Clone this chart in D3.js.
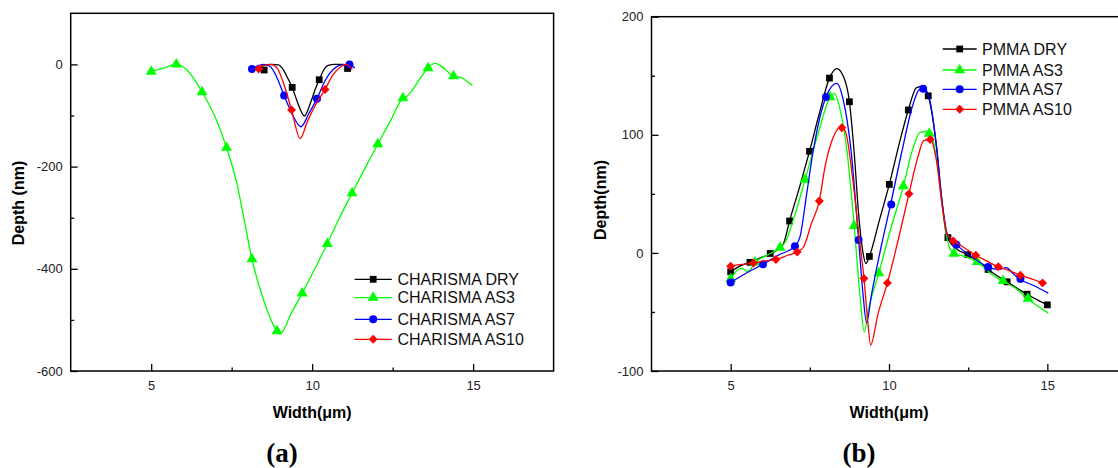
<!DOCTYPE html>
<html>
<head>
<meta charset="utf-8">
<script src="https://cdn.jsdelivr.net/npm/d3@7"></script>
<style>
    body { margin: 0; background: #fff; }
    text { font-family: Arial, 'Liberation Sans', sans-serif; }
    text.tag { font-family: 'Liberation Serif', 'Times New Roman', serif; }
</style>
</head>
<body>
<svg id="chart"></svg>
<script>
// ---- data: [width (um), depth (nm)] ----
const xTicks = [5, 10, 15];
const xMinorTicks = [7.5, 12.5];
const leftYTicks = [-600, -400, -200, 0];
const leftYMinor = [-500, -300, -100];
const rightYTicks = [-100, 0, 100, 200];
const rightYMinor = [-50, 50, 150];

const charismaLabels = ['CHARISMA DRY', 'CHARISMA AS3', 'CHARISMA AS7', 'CHARISMA AS10'];
const pmmaLabels = ['PMMA DRY', 'PMMA AS3', 'PMMA AS7', 'PMMA AS10'];

// (a) CHARISMA
const charismaDryLine = [[8.35, -5], [8.55, -1], [8.75, 0], [8.95, -1], [9.1, -10], [9.25, -28], [9.38, -45], [9.55, -75], [9.76, -101], [9.95, -75], [10.1, -48], [10.22, -30], [10.35, -12], [10.5, -2], [10.7, 0], [10.95, 0], [11.1, -4], [11.2, -7]];
const charismaDryMarks = [[8.51, -11], [9.38, -45], [10.22, -30], [11.1, -8]];

const charismaAS3Line = [[5, -14], [5.35, -8], [5.78, 0], [6.11, -11], [6.58, -54], [7.0, -105], [7.34, -163], [7.5, -195], [7.66, -233], [7.87, -298], [8.13, -381], [8.49, -461], [8.91, -522], [9.0, -528], [9.35, -487], [9.69, -448], [10.1, -398], [10.47, -351], [10.85, -300], [11.24, -252], [11.65, -202], [12.04, -156], [12.45, -108], [12.82, -66], [12.93, -63], [13.15, -47], [13.38, -25], [13.6, -7], [13.82, 2], [14.1, -8], [14.39, -23], [14.59, -25], [14.98, -42]];
const charismaAS3Marks = [[5, -14], [5.78, 0], [6.58, -54], [7.34, -163], [8.13, -381], [8.91, -522], [9.69, -448], [10.47, -351], [11.24, -252], [12.04, -156], [12.82, -66], [13.6, -7], [14.39, -23]];

const charismaAS7Line = [[8.13, -9], [8.3, -3], [8.5, 0], [8.7, -4], [8.9, -25], [9.13, -61], [9.4, -100], [9.65, -122], [9.9, -96], [10.15, -67], [10.4, -32], [10.65, -10], [10.9, -1], [11.1, 0], [11.33, -7]];
const charismaAS7Marks = [[8.13, -9], [9.13, -61], [10.15, -67], [11.16, 0]];

const charismaAS10Line = [[8.34, -9], [8.5, -2], [8.7, 0], [8.9, -6], [9.1, -35], [9.36, -89], [9.63, -145], [9.85, -112], [10.1, -80], [10.4, -49], [10.65, -20], [10.9, -4], [11.05, 0], [11.25, -10]];
const charismaAS10Marks = [[8.34, -9], [9.36, -89], [10.4, -49]];

// (b) PMMA
const pmmaDryLine = [[5, -16], [5.3, -11], [5.61, -8], [5.95, -4], [6.25, -1], [6.5, 3], [6.67, 8], [6.86, 27], [7.2, 58], [7.49, 86], [7.8, 118], [8.12, 148], [8.35, 156], [8.55, 150], [8.75, 128], [8.9, 85], [9.05, 30], [9.18, 0], [9.27, -9], [9.38, -3], [9.7, 28], [10.01, 58], [10.3, 90], [10.61, 121], [10.87, 140], [11.08, 141], [11.24, 133], [11.5, 90], [11.66, 47], [11.82, 15], [12.1, 4], [12.49, -1.5], [12.8, -7], [13.13, -14], [13.45, -20], [13.73, -24.5], [14.05, -30], [14.36, -35], [14.7, -40], [15, -44]];
const pmmaDryMarks = [[5, -16], [5.61, -8], [6.25, -0.5], [6.86, 27], [7.49, 86], [8.12, 148], [8.75, 128], [9.38, -3], [10.01, 58], [10.61, 121], [11.24, 133], [11.86, 13], [12.49, -1.5], [13.13, -14], [13.73, -24.5], [14.36, -35], [15, -44]];

const pmmaAS3Line = [[5, -22], [5.2, -15], [5.35, -13], [5.55, -16], [5.77, -8], [6.15, -2], [6.56, 4.5], [6.72, 9], [7.0, 30], [7.35, 62], [7.75, 100], [8.14, 132], [8.27, 135], [8.45, 122], [8.67, 87], [8.9, 23], [9.08, -35], [9.22, -67], [9.35, -48], [9.68, -17], [10.05, 20], [10.45, 56], [10.75, 88], [10.98, 102], [11.29, 103], [11.5, 80], [11.71, 33], [11.9, 5], [12.05, -0.5], [12.4, -3], [12.79, -8], [12.95, -11], [13.19, -17], [13.6, -24], [14.0, -30], [14.39, -39], [15.03, -51]];
const pmmaAS3Marks = [[5, -22], [5.77, -8], [6.56, 4.5], [7.35, 62], [8.14, 132], [8.9, 23], [9.68, -17], [10.45, 56.5], [11.27, 101], [12.05, -0.5], [12.79, -7.6], [13.6, -23.7], [14.39, -38.7]];

const pmmaAS7Line = [[5, -25], [5.5, -17], [6.02, -9.6], [6.5, -2], [7.03, 5.7], [7.19, 13.6], [7.4, 50], [7.61, 87], [8.01, 132], [8.35, 143.5], [8.55, 130], [8.8, 87], [9.04, 11], [9.18, -35], [9.29, -59], [9.45, -35], [9.75, 5], [10.05, 41], [10.4, 85], [10.75, 125], [10.95, 138], [11.08, 139], [11.28, 130], [11.5, 90], [11.66, 47], [11.85, 15], [12.13, 7], [12.6, -3], [13.13, -11.8], [13.45, -14], [13.71, -12.5], [13.9, -17], [14.15, -22.5], [14.6, -28], [15.03, -34]];
const pmmaAS7Marks = [[5, -25], [6.02, -9.6], [7.03, 5.7], [8.01, 132], [9.04, 11], [10.07, 41], [11.08, 139], [12.13, 7], [13.13, -12], [14.15, -22]];

const pmmaAS10Line = [[5, -11.3], [5.3, -10], [5.72, -8.5], [6.05, -7], [6.43, -5.6], [6.8, -2], [7.1, 0.8], [7.3, 5], [7.55, 25], [7.8, 44], [7.98, 73], [8.24, 98], [8.47, 106.5], [8.62, 103], [8.87, 59], [9.05, 15], [9.21, -21.7], [9.32, -55], [9.42, -78], [9.65, -52], [9.95, -25.4], [10.3, 12], [10.63, 50], [10.9, 80], [11.1, 95], [11.3, 96], [11.5, 78], [11.68, 40], [11.85, 15], [12.03, 10.8], [12.4, 4], [12.74, -2], [13.1, -7], [13.45, -11.8], [13.8, -15], [14.15, -19], [14.5, -22], [14.85, -25.4]];
const pmmaAS10Marks = [[5, -11.3], [5.72, -8.5], [6.43, -5.6], [7.1, 0.8], [7.8, 44], [8.51, 106], [9.21, -21.7], [9.95, -25.4], [10.63, 50], [11.3, 96], [12.03, 10], [12.74, -2], [13.45, -11.8], [14.15, -19], [14.85, -25.4]];

// ---- drawing ----
const width = 1118;
const height = 468;
const svg = d3.select('#chart')
    .attr('width', width)
    .attr('height', height);

const colors = ['#000000', '#00ff00', '#0000ff', '#ff0000'];
const symbols = [d3.symbolSquare, d3.symbolTriangle, d3.symbolCircle, d3.symbolSquare];
const symbolSizes = [46, 52, 50, 40];
const symbolRotate = [0, 0, 0, 45];

const panels = [
    {
        left: 70.7, right: 553.6, top: 13.3, bottom: 371,
        yDomain: [-600, 100], yTicks: leftYTicks, yMinor: leftYMinor,
        lines: [charismaDryLine, charismaAS3Line, charismaAS7Line, charismaAS10Line],
        marks: [charismaDryMarks, charismaAS3Marks, charismaAS7Marks, charismaAS10Marks],
        labels: charismaLabels,
        legend: {x1: 354.6, x2: 391.8, tx: 397.5, rows: [279.3, 297.7, 319.3, 339.3]},
        yTitle: 'Depth (nm)', yTitleX: 18, yTitleY: 203,
        tag: '(a)', tagX: 282
    },
    {
        left: 651.5, right: 1126.5, top: 16.7, bottom: 371,
        yDomain: [-100, 200], yTicks: rightYTicks, yMinor: rightYMinor,
        lines: [pmmaDryLine, pmmaAS3Line, pmmaAS7Line, pmmaAS10Line],
        marks: [pmmaDryMarks, pmmaAS3Marks, pmmaAS7Marks, pmmaAS10Marks],
        labels: pmmaLabels,
        legend: {x1: 942.7, x2: 976.7, tx: 982, rows: [49, 70, 89.3, 109.3]},
        yTitle: 'Depth(nm)', yTitleX: 600, yTitleY: 200,
        tag: '(b)', tagX: 859
    }
];

function symbolPath(i) {
    return d3.symbol().type(symbols[i]).size(symbolSizes[i])();
}

panels.forEach(p => {
    const x = d3.scaleLinear().domain([2.5, 17.5]).range([p.left, p.right]);
    const y = d3.scaleLinear().domain(p.yDomain).range([p.bottom, p.top]);
    const g = svg.append('g');

    // minor ticks (inward)
    g.append('g').attr('transform', `translate(0, ${p.bottom})`)
        .call(d3.axisBottom(x).tickValues(xMinorTicks).tickSize(-3.5).tickFormat(''))
        .call(a => a.select('.domain').remove());
    g.append('g').attr('transform', `translate(${p.left}, 0)`)
        .call(d3.axisLeft(y).tickValues(p.yMinor).tickSize(-3.5).tickFormat(''))
        .call(a => a.select('.domain').remove());

    // major ticks + labels (plain hyphen minus like the original)
    const xAxis = g.append('g').attr('transform', `translate(0, ${p.bottom})`)
        .call(d3.axisBottom(x).tickValues(xTicks).tickSize(-7).tickPadding(10).tickFormat(d => String(d)));
    const yAxis = g.append('g').attr('transform', `translate(${p.left}, 0)`)
        .call(d3.axisLeft(y).tickValues(p.yTicks).tickSize(-7).tickPadding(8).tickFormat(d => String(d)));
    [xAxis, yAxis].forEach(a => {
        a.select('.domain').remove();
        a.selectAll('text').attr('font-size', 13).attr('fill', '#222');
    });
    g.selectAll('.tick line').attr('stroke', '#000').attr('stroke-width', 1.3);

    // frame
    g.append('rect')
        .attr('x', p.left).attr('y', p.top)
        .attr('width', p.right - p.left).attr('height', p.bottom - p.top)
        .attr('fill', 'none').attr('stroke', '#000').attr('stroke-width', 1.5);

    // curves
    const line = d3.line().x(d => x(d[0])).y(d => y(d[1])).curve(d3.curveMonotoneX);
    p.lines.forEach((pts, i) => {
        g.append('path').datum(pts)
            .attr('d', line)
            .attr('fill', 'none')
            .attr('stroke', colors[i])
            .attr('stroke-width', 1.3);
        g.selectAll(null).data(p.marks[i]).enter().append('path')
            .attr('d', symbolPath(i))
            .attr('transform', d => `translate(${x(d[0])}, ${y(d[1])}) rotate(${symbolRotate[i]})`)
            .attr('fill', colors[i]);
    });

    // legend
    p.labels.forEach((label, i) => {
        const ly = p.legend.rows[i];
        g.append('line')
            .attr('x1', p.legend.x1).attr('x2', p.legend.x2)
            .attr('y1', ly).attr('y2', ly)
            .attr('stroke', colors[i]).attr('stroke-width', 1.3);
        g.append('path')
            .attr('d', symbolPath(i))
            .attr('transform', `translate(${(p.legend.x1 + p.legend.x2) / 2}, ${ly}) rotate(${symbolRotate[i]})`)
            .attr('fill', colors[i]);
        g.append('text')
            .attr('x', p.legend.tx).attr('y', ly).attr('dy', '0.35em')
            .attr('font-size', 16).attr('fill', '#111')
            .text(label);
    });

    // axis titles
    g.append('text')
        .attr('x', x(10)).attr('y', 412).attr('dy', '0.35em')
        .attr('text-anchor', 'middle').attr('font-size', 16).attr('font-weight', 'bold')
        .text('Width(\u03bcm)');
    g.append('text')
        .attr('transform', `translate(${p.yTitleX}, ${p.yTitleY}) rotate(-90)`)
        .attr('dy', '0.35em')
        .attr('text-anchor', 'middle').attr('font-size', 16).attr('font-weight', 'bold')
        .text(p.yTitle);

    // panel tag
    g.append('text')
        .attr('class', 'tag')
        .attr('x', p.tagX).attr('y', 462)
        .attr('text-anchor', 'middle').attr('font-size', 27).attr('font-weight', 'bold')
        .text(p.tag);
});
</script>
</body>
</html>
